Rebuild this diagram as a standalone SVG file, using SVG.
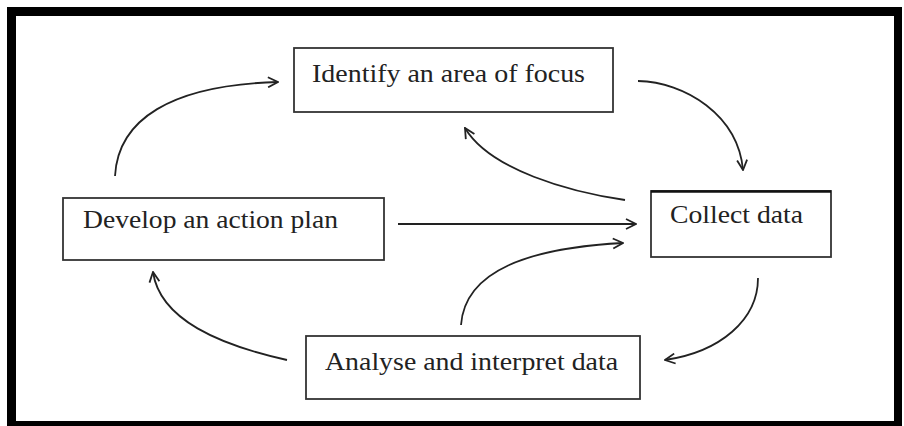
<svg xmlns="http://www.w3.org/2000/svg" width="904" height="426" viewBox="0 0 904 426">
<defs>
<marker id="ah" viewBox="0 0 12 12" refX="11" refY="6" markerWidth="12" markerHeight="12" markerUnits="userSpaceOnUse" orient="auto">
<path d="M1,1 L11,6 L1,11" fill="none" stroke="#222" stroke-width="1.8"/>
</marker>
<style>
.box{fill:#fff;stroke:#333;stroke-width:1.8}
.t{font-family:"Liberation Serif","Times New Roman",serif;font-size:26px;fill:#222}
.c{fill:none;stroke:#222;stroke-width:1.8;marker-end:url(#ah)}
</style>
</defs>
<rect x="0" y="0" width="904" height="426" fill="#fff"/>
<path d="M7,7 H902 V426 H7 Z M16,16 V421 H894 V16 Z" fill="#000" fill-rule="evenodd"/>
<g id="identify">
<rect class="box" x="294" y="48" width="319" height="64"/>
<text class="t" x="312" y="82" textLength="273" lengthAdjust="spacingAndGlyphs">Identify an area of focus</text>
</g>
<g id="collect">
<rect class="box" x="651" y="191" width="180" height="66"/>
<line x1="651" y1="191.5" x2="831" y2="191.5" stroke="#111" stroke-width="2.5"/>
<text class="t" x="670" y="223" textLength="133" lengthAdjust="spacingAndGlyphs">Collect data</text>
</g>
<g id="develop">
<rect class="box" x="63" y="198" width="321" height="62"/>
<text class="t" x="83" y="228" textLength="255" lengthAdjust="spacingAndGlyphs">Develop an action plan</text>
</g>
<g id="analyse">
<rect class="box" x="306" y="336" width="334" height="63"/>
<text class="t" x="325" y="370" textLength="293" lengthAdjust="spacingAndGlyphs">Analyse and interpret data</text>
</g>
<g id="connectors">
<path class="c" d="M115,176 C118,120 170,85 278,82"/>
<path class="c" d="M638,81 C685,82 738,115 743,170"/>
<path class="c" d="M625,200 C570,192 490,170 465,128"/>
<path class="c" d="M398,224 L636,224"/>
<path class="c" d="M461,325 C465,270 530,248 623,243"/>
<path class="c" d="M758,278 C758,320 720,352 665,360"/>
<path class="c" d="M287,360 C220,345 160,320 153,272"/>
</g>
</svg>
